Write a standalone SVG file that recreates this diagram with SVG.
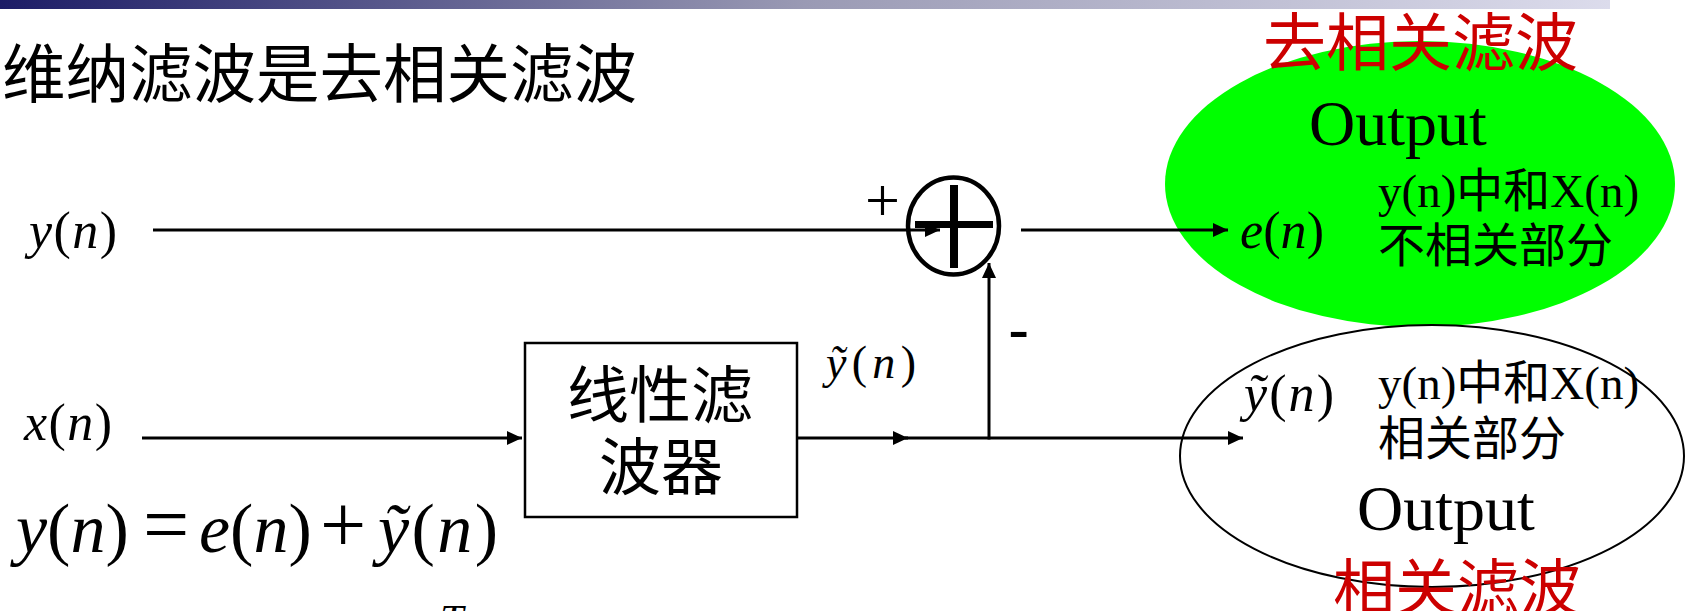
<svg xmlns="http://www.w3.org/2000/svg" width="1685" height="611" viewBox="0 0 1685 611">
<defs>
<linearGradient id="bar" x1="0" y1="0" x2="1" y2="0">
<stop offset="0" stop-color="#1c1c66"/>
<stop offset="0.5" stop-color="#9a9ab4"/>
<stop offset="1" stop-color="#dcdcec"/>
</linearGradient>
<marker id="arr" markerUnits="userSpaceOnUse" markerWidth="16" markerHeight="14" refX="15" refY="7" orient="auto">
<path d="M0,0 L15,7 L0,14 z" fill="#000"/>
</marker>
<style>
.cjk{font-family:"Noto Sans CJK SC",sans-serif;}
.red{font-family:"Noto Sans CJK SC",sans-serif;fill:#cc0000;}
.tm{font-family:"Liberation Serif","Noto Sans CJK SC",serif;fill:#000;}
.it{font-style:italic;}
.ln{stroke:#000;stroke-width:3;fill:none;}
.arrow{marker-end:url(#arr);}
</style>
</defs>
<rect x="0" y="0" width="1610" height="9" fill="url(#bar)"/>
<text class="cjk" x="2" y="97" font-size="63.5">维纳滤波是去相关滤波</text>

<g id="input-y">
<text class="tm" x="29" y="248" font-size="52" textLength="88" lengthAdjust="spacing"><tspan class="it">y</tspan>(<tspan class="it">n</tspan>)</text>
</g>
<g id="input-x">
<text class="tm" x="24" y="440" font-size="52" textLength="88" lengthAdjust="spacing"><tspan class="it">x</tspan>(<tspan class="it">n</tspan>)</text>
</g>

<g id="filter">
<rect x="525" y="343" width="272" height="174" fill="#fff" stroke="#000" stroke-width="2.5"/>
<text class="cjk" font-size="62" text-anchor="middle"><tspan x="660" y="418">线性滤</tspan><tspan x="661" y="490">波器</tspan></text>
</g>

<g id="output-e">
<ellipse cx="1420" cy="184" rx="255" ry="143" fill="#00ff00"/>
<text class="red" x="1263" y="65" font-size="63">去相关滤波</text>
<text class="tm" x="1309" y="145" font-size="64">Output</text>
<text class="tm" x="1240" y="248" font-size="52" textLength="84" lengthAdjust="spacing"><tspan class="it">e</tspan>(<tspan class="it">n</tspan>)</text>
<text class="tm" x="1378" y="207" font-size="47">y(n)中和X(n)</text>
<text class="tm" x="1378" y="262" font-size="47">不相关部分</text>
</g>

<g id="output-ytilde">
<ellipse cx="1432" cy="456" rx="252" ry="131" fill="#fff" stroke="#000" stroke-width="2"/>
<text class="tm" x="1244" y="411" font-size="52" textLength="90" lengthAdjust="spacing"><tspan class="it">ỹ</tspan>(<tspan class="it">n</tspan>)</text>
<text class="tm" x="1378" y="399" font-size="47">y(n)中和X(n)</text>
<text class="tm" x="1378" y="455" font-size="47">相关部分</text>
<text class="tm" x="1357" y="530" font-size="64">Output</text>
<text class="red" x="1333" y="611" font-size="62">相关滤波</text>
</g>

<g id="connectors">
<line class="ln arrow" x1="153" y1="230" x2="940" y2="230"/>
<line class="ln arrow" x1="1021" y1="230" x2="1228" y2="230"/>
<line class="ln arrow" x1="142" y1="438" x2="522" y2="438"/>
<line class="ln arrow" x1="797" y1="438" x2="908" y2="438"/>
<line class="ln arrow" x1="905" y1="438" x2="1243" y2="438"/>
<line class="ln arrow" x1="989" y1="439.5" x2="989" y2="263"/>
</g>

<g id="sum">
<ellipse cx="953.5" cy="226" rx="45.5" ry="48.5" fill="none" stroke="#000" stroke-width="4.5"/>
<rect x="915" y="221" width="78" height="7" fill="#000"/>
<rect x="950" y="185" width="8" height="83" fill="#000"/>
<text class="tm" x="865" y="221" font-size="62">+</text>
<text x="1008" y="352" font-family="Liberation Sans, sans-serif" font-size="64">-</text>
</g>

<g id="labels">
<text class="tm" x="826" y="378" font-size="46" textLength="90" lengthAdjust="spacing"><tspan class="it">ỹ</tspan>(<tspan class="it">n</tspan>)</text>
<text class="tm" y="552" font-size="70"><tspan x="16" class="it">y</tspan>(<tspan class="it">n</tspan>)</text>
<text class="tm" x="143" y="552" font-size="82">=</text>
<text class="tm" x="199" y="552" font-size="70"><tspan class="it">e</tspan>(<tspan class="it">n</tspan>)</text>
<text class="tm" x="320" y="552" font-size="82">+</text>
<text class="tm" x="378" y="552" font-size="70" textLength="120" lengthAdjust="spacing"><tspan class="it">ỹ</tspan>(<tspan class="it">n</tspan>)</text>
<text class="tm it" x="440" y="634" font-size="42">T</text>
</g>
</svg>
